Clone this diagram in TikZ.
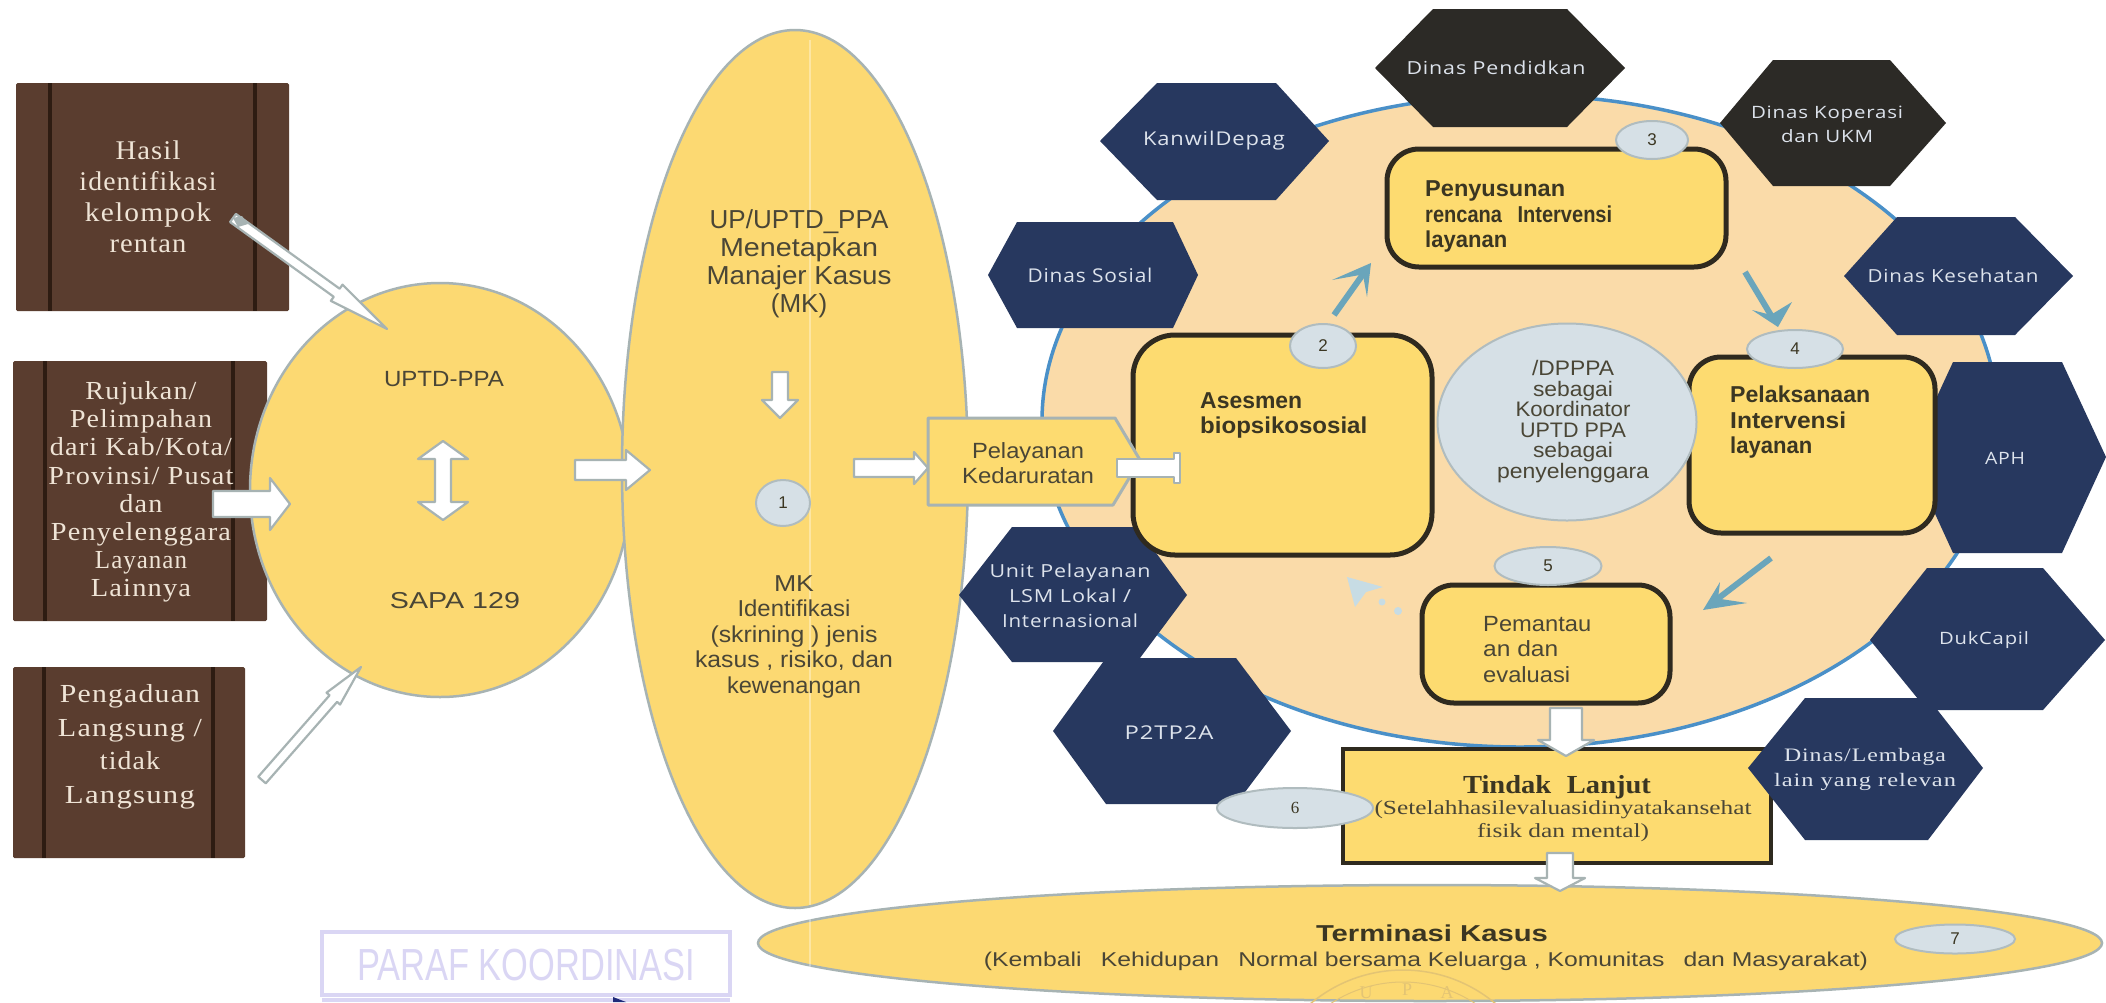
\documentclass[tikz,border=0pt]{standalone}
\usepackage{fontspec}
\usepackage{graphicx}
\usetikzlibrary{calc,shapes.geometric}
\setmainfont{Liberation Serif}
\newfontfamily\arf{Liberation Sans}
\newfontfamily\opf[LetterSpace=4]{Open Sans}
\newfontfamily\sersp[LetterSpace=4]{Liberation Serif}
\newcommand{\sz}[2]{\fontsize{#1}{#2}\selectfont}
\newcommand{\fitw}[2]{\resizebox{#1pt}{\height}{#2}}
\definecolor{ylw}{HTML}{FCD972}
\definecolor{ylwb}{HTML}{FDDB70}
\definecolor{peach}{HTML}{FADBA9}
\definecolor{navy}{HTML}{27385F}
\definecolor{darkhex}{HTML}{2C2A26}
\definecolor{boxedge}{HTML}{2F2A1F}
\definecolor{grayedge}{HTML}{A7B3B3}
\definecolor{badgefill}{HTML}{D6E0E6}
\definecolor{badgeedge}{HTML}{B0BCBF}
\definecolor{tealar}{HTML}{6AA5BB}
\definecolor{paletl}{HTML}{C7DCE4}
\definecolor{brownf}{HTML}{5A3D2F}
\definecolor{brownd}{HTML}{2E1C12}
\definecolor{browntx}{HTML}{EFE4D6}
\definecolor{bluering}{HTML}{4A90C8}
\definecolor{ink}{HTML}{3B3622}
\definecolor{inksoft}{HTML}{4A4636}
\definecolor{lav}{HTML}{DAD6F4}
\definecolor{hextx}{HTML}{DDE3EC}
\definecolor{tickc}{HTML}{1F2A7A}
\definecolor{sealc}{HTML}{E3C474}
\tikzset{
  ovalshape/.style={ellipse,draw=grayedge,line width=2.5pt,fill=ylw,inner sep=0pt,outer sep=0pt},
  badge/.style={ellipse,draw=badgeedge,line width=2pt,fill=badgefill,inner sep=0pt,outer sep=0pt,text=ink,font=\arf\sz{17}{20}},
  panel/.style={rectangle,rounded corners=32pt,draw=boxedge,line width=5pt,fill=ylwb,inner sep=0pt,outer sep=0pt},
  brownbox/.style={rectangle,rounded corners=1.5pt,fill=brownf,inner sep=0pt,outer sep=0pt},
  barline/.style={draw=brownd,line width=4.5pt},
  browntext/.style={text=browntx,align=center,inner sep=0pt},
  labelA/.style={text=inksoft,align=center,inner sep=0pt},
  labelL/.style={text=inksoft,align=left,inner sep=0pt,anchor=west},
  labelB/.style={text=ink,align=left,inner sep=0pt,anchor=west},
  hextext/.style={text=hextx,align=center,inner sep=0pt},
  blockar/.style={fill=white,draw=grayedge,line width=2.2pt,line join=round},
  tealline/.style={draw=tealar,line width=6pt},
  sealtext/.style={text=sealc,inner sep=0pt,font=\sz{18}{20}},
}
\newcommand{\barrow}[6]{%
  \coordinate (#1a) at (#2);\coordinate (#1b) at (#3);
  \coordinate (#1h) at ($(#1b)!#6pt!(#1a)$);
  \draw[blockar] ($(#1a)!#4pt!90:(#1b)$) -- ($(#1h)!#4pt!-90:(#1a)$) -- ($(#1h)!#5pt!-90:(#1a)$) -- (#1b)
    -- ($(#1h)!#5pt!90:(#1a)$) -- ($(#1h)!#4pt!90:(#1a)$) -- ($(#1a)!#4pt!-90:(#1b)$) -- cycle;}
\newcommand{\hexa}[8]{\fill[#1] (#3,#6) -- (#4,#6) -- (#5,#7) -- (#4,#8) -- (#3,#8) -- (#2,#7) -- cycle;}
\newcommand{\tealarrow}[5]{%
  \coordinate (#1t) at (#2);\coordinate (#1p) at (#3);\coordinate (#1w) at (#4);\coordinate (#1v) at (#5);
  \draw[tealline] (#1t) -- ($(#1p)!0.2!(#1t)$);
  \fill[tealar] (#1p) -- (#1w) -- ($(#1p)!0.22!(#1t)$) -- (#1v) -- cycle;}
\begin{document}
\begin{tikzpicture}[x=1pt,y=-1pt]
\useasboundingbox (0,0) rectangle (2106,1002);
\fill[white] (0,0) rectangle (2106,1002);
\clip (0,0) rectangle (2106,1002);

% brown boxes
\node[brownbox,minimum width=273pt,minimum height=228pt] (b1) at (152.5,197) {};
\draw[barline] (50,83) -- (50,311) (255,83) -- (255,311);
\node[brownbox,minimum width=254pt,minimum height=260pt] (b2) at (140,491) {};
\draw[barline] (45,361) -- (45,621) (233,361) -- (233,621);
\node[brownbox,minimum width=232pt,minimum height=191pt] (b3) at (129,762.5) {};
\draw[barline] (44,667) -- (44,858) (213,667) -- (213,858);
\node[browntext,font=\sersp\sz{27}{31}] (t1) at (148,197) {\fitw{65}{Hasil}\\\fitw{137}{identifikasi}\\\fitw{126}{kelompok}\\\fitw{77}{rentan}};
\node[browntext,font=\sersp\sz{26}{28.2}] (t2) at (141,492) {\fitw{111}{Rujukan/}\\\fitw{142}{Pelimpahan}\\\fitw{182}{dari Kab/Kota/}\\\fitw{185}{Provinsi/ Pusat}\\\fitw{43}{dan}\\\fitw{180}{Penyelenggara}\\\fitw{92}{Layanan}\\\fitw{100}{Lainnya}};
\node[browntext,font=\sersp\sz{26}{33.5}] (t3) at (130,747) {\fitw{140}{Pengaduan}\\\fitw{144}{Langsung /}\\\fitw{60}{tidak}\\\fitw{130}{Langsung}};

% main ovals
\node[ovalshape,minimum width=380pt,minimum height=414pt] (uptd) at (440,490) {};
\node[ovalshape,minimum width=346pt,minimum height=878pt] (mk) at (795,469) {};
\draw[white,opacity=.35,line width=1.2pt] (810,40) -- (810,905);
\node[ellipse,draw=bluering,line width=3.5pt,fill=peach,minimum width=956pt,minimum height=652pt,inner sep=0pt,outer sep=0pt] (ring) at (1520,421) {};
\node[ovalshape,minimum width=1344pt,minimum height=116pt] (term) at (1430,943) {};
\draw[white,opacity=.35,line width=1.2pt] (810,912) -- (810,975);
% faint seal
\begin{scope}
\clip (1250,960) rectangle (1560,1002);
\draw[draw=sealc,line width=1.5pt] (1403,1114) circle (144pt);
\draw[draw=sealc,line width=1pt] (1403,1114) circle (132pt);
\end{scope}
\node[sealtext] (seal1) at (1366,993) {U};
\node[sealtext] (seal2) at (1407,990) {P};
\node[sealtext] (seal3) at (1447,993) {A};

% hexagons
\hexa{navy}{1100}{1157}{1276}{1329}{83}{141}{200}
\hexa{darkhex}{1375}{1433}{1567}{1625}{9}{68}{127}
\hexa{darkhex}{1720}{1773}{1890}{1946}{60}{123}{186}
\hexa{navy}{988}{1017}{1173}{1198}{222}{275}{328}
\hexa{navy}{1844}{1897}{2015}{2073}{217}{276}{335}
\hexa{navy}{1909}{1953}{2062}{2106}{362}{457}{553}
\hexa{navy}{959}{1012}{1137}{1187}{527}{595}{662}
\hexa{navy}{1053}{1106}{1236}{1291}{658}{731}{804}
\hexa{navy}{1870}{1927}{2043}{2105}{568}{640}{710}

% panels
\node[panel,minimum width=339pt,minimum height=118pt] (p3) at (1556.5,208) {};
\node[panel,rounded corners=42pt,minimum width=299pt,minimum height=220pt] (p2) at (1282.5,445) {};
\node[panel,minimum width=246pt,minimum height=176pt] (p4) at (1812,445) {};
\node[panel,minimum width=248pt,minimum height=118pt] (p5) at (1546,644) {};
\node[rectangle,draw=boxedge,line width=4.5pt,fill=ylwb,inner sep=0pt,outer sep=0pt,minimum width=428pt,minimum height=114pt] (p6) at (1557,806) {};
\hexa{navy}{1748}{1805}{1928}{1983}{698}{768}{840}

% centre oval
\node[ellipse,draw=badgeedge,line width=2pt,fill=badgefill,minimum width=259pt,minimum height=197pt,inner sep=0pt,outer sep=0pt] (coord) at (1567,422) {};
\node[labelA,font=\arf\sz{21}{20.6}] (coordtx) at (1573,421.5) {\fitw{82}{/DPPPA}\\\fitw{80}{sebagai}\\\fitw{115}{Koordinator}\\\fitw{106}{UPTD PPA}\\\fitw{80}{sebagai}\\\fitw{152}{penyelenggara}};

% badges
\node[badge,minimum width=54pt,minimum height=46pt] (n1) at (783,503) {1};
\node[badge,minimum width=66pt,minimum height=44pt] (n2) at (1323,346) {2};
\node[badge,minimum width=72pt,minimum height=38pt] (n3) at (1652,140) {3};
\node[badge,minimum width=96pt,minimum height=38pt] (n4) at (1795,349) {4};
\node[badge,minimum width=107pt,minimum height=38pt] (n5) at (1548,566) {5};
\node[badge,font=\sz{17}{20},minimum width=156pt,minimum height=40pt] (n6) at (1295,808) {6};
\node[badge,minimum width=120pt,minimum height=29pt] (n7) at (1955,939) {7};

% block arrows
\barrow{ar1}{233,218}{387,329}{5}{10}{62}
\fill[grayedge] (233,218) -- (242,216) -- (248,224) -- (238,227) -- cycle;
\barrow{ar2}{213,504}{290,504}{13}{26}{20}
\barrow{ar3}{262,780}{361,667}{5}{9}{42}
\barrow{ar4}{575,470}{650,470}{10}{20}{24}
\barrow{ar5}{780,372}{780,418}{8}{18}{18}
\barrow{ar6}{854,468}{928,468}{9}{16}{14}
% double arrow
\coordinate (dbl1) at (443,441);\coordinate (dbl2) at (443,520);
\draw[blockar] (dbl1) -- ++(25,18) -- ++(-17,0) -- ++(0,43) -- ++(17,0) -- (dbl2) -- ++(-25,-18) -- ++(17,0) -- ++(0,-43) -- ++(-17,0) -- cycle;

% pentagon
\draw[draw=grayedge,line width=3pt,fill=ylwb,line join=round] (928,418) -- (1115,418) -- (1140,460) -- (1113,505) -- (928,505) -- cycle;
\node[labelA,font=\arf\sz{22}{25.5}] (pk) at (1028,463) {\fitw{112}{Pelayanan}\\\fitw{132}{Kedaruratan}};
\coordinate (ar7a) at (1117,468);\coordinate (ar7b) at (1180,468);
\draw[blockar] (ar7a) ++(0,-9) -- (1174,459) -- (1174,453) -- (1180,453) -- (1180,483) -- (1174,483) -- (1174,477) -- (1117,477) -- cycle;

\barrow{ar8}{1566,708}{1566,756}{16}{28}{16}
\barrow{ar9}{1560,853}{1560,891}{13}{25}{13}

% teal arrows
\tealarrow{c1}{1334,315}{1371,263}{1332,280}{1367,297}
\tealarrow{c2}{1745,272}{1778,327}{1752,310}{1792,302}
\tealarrow{c3}{1771,558}{1703,610}{1720,582}{1747,603}
\coordinate (c4a) at (1347,577);\coordinate (c4b) at (1383,587);\coordinate (c4c) at (1355,607);
\fill[paletl] (c4a) -- (c4b) -- (1366,592) -- (c4c) -- cycle;
\fill[paletl] (1382,602) circle (3.5pt) (1398,611) circle (4pt);

% texts
\node[labelA,font=\arf\sz{22}{26}] (l1) at (444,379) {\fitw{120}{UPTD-PPA}};
\node[labelA,font=\arf\sz{23}{26}] (l2) at (455,601) {\fitw{130}{SAPA 129}};
\node[labelA,font=\arf\sz{26}{28}] (l3) at (799,263.5) {UP/UPTD\_PPA\\\fitw{158}{Menetapkan}\\\fitw{185}{Manajer Kasus}\\(MK)};
\node[labelA,font=\arf\sz{23}{25.5}] (l4) at (794,636.5) {\fitw{40}{MK}\\\fitw{113}{Identifikasi}\\\fitw{167}{(skrining ) jenis}\\\fitw{198}{kasus , risiko, dan}\\\fitw{134}{kewenangan}};

\node[labelB,font=\arf\bfseries\sz{23}{25}] (l5) at (1200,415.5) {\fitw{102}{Asesmen}\\\fitw{167}{biopsikososial}};
\node[labelB,font=\arf\bfseries\sz{23}{25.5}] (l6) at (1425,216.5) {\fitw{140}{Penyusunan}\\\fitw{187}{rencana\hspace{.5em} Intervensi}\\\fitw{82}{layanan}};
\node[labelB,font=\arf\bfseries\sz{23}{25.5}] (l7) at (1730,422.5) {\fitw{140}{Pelaksanaan}\\\fitw{116}{Intervensi}\\\fitw{82}{layanan}};
\node[labelL,font=\arf\sz{22}{25.5}] (l8) at (1483,649.5) {\fitw{108}{Pemantau}\\\fitw{75}{an dan}\\\fitw{87}{evaluasi}};
\node[labelA,text=ink,font=\bfseries\sz{26}{28}] (l9) at (1557,787) {\fitw{188}{Tindak\hspace{.3em} Lanjut}};
\node[labelA,font=\sz{20}{23}] (l10) at (1563,821.5) {\fitw{377}{(Setelahhasilevaluasidinyatakansehat}\\\fitw{172}{fisik dan mental)}};
\node[labelA,text=ink,font=\arf\bfseries\sz{23}{26}] (l11) at (1432,933) {\fitw{232}{Terminasi Kasus}};
\node[labelA,font=\arf\sz{20}{24}] (l12) at (1426,961) {\fitw{884}{(Kembali\hspace{.5em} Kehidupan\hspace{.5em} Normal bersama Keluarga , Komunitas\hspace{.5em} dan Masyarakat)}};

% hexagon texts
\node[hextext,font=\opf\sz{19}{24}] (h1) at (1214,141) {\fitw{142}{KanwilDepag}};
\node[hextext,font=\opf\sz{18}{24}] (h2) at (1496,68) {\fitw{179}{Dinas Pendidkan}};
\node[hextext,font=\opf\sz{17}{24}] (h3) at (1827,124) {\fitw{152}{Dinas Koperasi}\\\fitw{92}{dan UKM}};
\node[hextext,font=\opf\sz{19}{24}] (h4) at (1090,275) {\fitw{125}{Dinas Sosial}};
\node[hextext,font=\opf\sz{18}{24}] (h5) at (1953,276) {\fitw{171}{Dinas Kesehatan}};
\node[hextext,font=\opf\sz{17}{24}] (h6) at (2005,458) {\fitw{40}{APH}};
\node[hextext,font=\opf\sz{18}{25}] (h7) at (1070,596) {\fitw{161}{Unit Pelayanan}\\\fitw{122}{LSM Lokal /}\\\fitw{136}{Internasional}};
\node[hextext,font=\opf\sz{19}{24}] (h8) at (1169,733) {\fitw{89}{P2TP2A}};
\node[hextext,font=\opf\sz{17}{24}] (h9) at (1984,640) {\fitw{90}{DukCapil}};
\node[hextext,font=\sersp\sz{19}{25}] (h10) at (1865,769.5) {\fitw{162}{Dinas/Lembaga}\\\fitw{182}{lain yang relevan}};

% stamp
\draw[lav,line width=4pt] (322,932) rectangle (730,995);
\draw[lav,line width=4pt] (322,1000) -- (730,1000);
\node[inner sep=0pt,text=lav,font=\arf\sz{45}{48}] (paraf) at (526,965) {\fitw{338}{PARAF KOORDINASI}};
\coordinate (tick) at (613,997);
\fill[tickc] (tick) -- (626,1002) -- (613,1002) -- cycle;
\end{tikzpicture}
\end{document}
